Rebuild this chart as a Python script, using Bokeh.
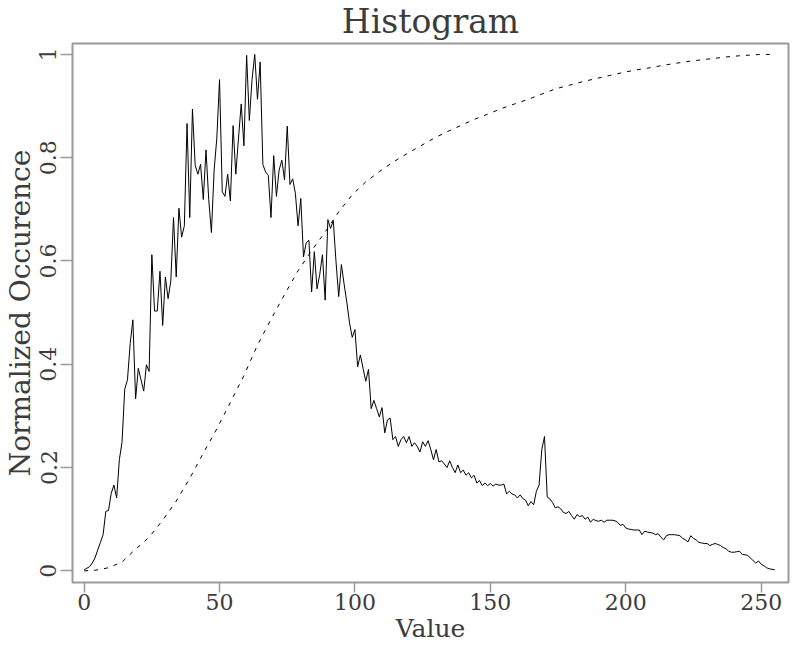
from bokeh.plotting import figure
from bokeh.models import Range1d, FixedTicker
from bokeh.embed import file_html
from bokeh.resources import INLINE

# ---- data ----
hist_values = [
    0.002, 0.005, 0.008, 0.015, 0.025, 0.040, 0.055, 0.070, 0.115, 0.117,
    0.150, 0.166, 0.141, 0.215, 0.250, 0.352, 0.370, 0.440, 0.486, 0.333,
    0.392, 0.370, 0.348, 0.399, 0.386, 0.612, 0.503, 0.503, 0.580, 0.475,
    0.569, 0.527, 0.561, 0.684, 0.569, 0.702, 0.646, 0.668, 0.866, 0.684,
    0.894, 0.785, 0.768, 0.787, 0.719, 0.815, 0.719, 0.655, 0.776, 0.838,
    0.951, 0.734, 0.725, 0.768, 0.716, 0.862, 0.768, 0.838, 0.904, 0.823,
    0.998, 0.872, 0.951, 1.000, 0.913, 0.985, 0.787, 0.772, 0.766, 0.684,
    0.804, 0.725, 0.776, 0.795, 0.757, 0.861, 0.748, 0.759, 0.731, 0.668,
    0.721, 0.608, 0.635, 0.640, 0.540, 0.618, 0.546, 0.574, 0.612, 0.524,
    0.680, 0.663, 0.678, 0.599, 0.531, 0.593, 0.555, 0.520, 0.480, 0.452,
    0.467, 0.395, 0.418, 0.392, 0.367, 0.390, 0.314, 0.330, 0.314, 0.298,
    0.316, 0.267, 0.292, 0.296, 0.254, 0.260, 0.241, 0.254, 0.260, 0.248,
    0.260, 0.241, 0.248, 0.241, 0.230, 0.250, 0.241, 0.252, 0.235, 0.215,
    0.235, 0.211, 0.213, 0.207, 0.200, 0.213, 0.200, 0.190, 0.205, 0.190,
    0.195, 0.185, 0.190, 0.180, 0.185, 0.170, 0.175, 0.165, 0.170, 0.165,
    0.169, 0.164, 0.168, 0.166, 0.166, 0.168, 0.149, 0.154, 0.149, 0.147,
    0.141, 0.147, 0.140, 0.137, 0.126, 0.134, 0.128, 0.154, 0.166, 0.235,
    0.260, 0.143, 0.139, 0.132, 0.122, 0.124, 0.120, 0.113, 0.111, 0.115,
    0.107, 0.100, 0.109, 0.105, 0.107, 0.100, 0.104, 0.094, 0.100, 0.097,
    0.096, 0.098, 0.094, 0.098, 0.098, 0.098, 0.097, 0.094, 0.088, 0.090,
    0.083, 0.081, 0.080, 0.079, 0.079, 0.079, 0.070, 0.077, 0.075, 0.074,
    0.073, 0.070, 0.072, 0.065, 0.060, 0.068, 0.070, 0.070, 0.070, 0.069,
    0.068, 0.063, 0.060, 0.056, 0.068, 0.063, 0.060, 0.055, 0.054, 0.053,
    0.053, 0.049, 0.051, 0.053, 0.051, 0.049, 0.045, 0.043, 0.038, 0.036,
    0.036, 0.037, 0.038, 0.032, 0.031, 0.030, 0.025, 0.020, 0.015, 0.019,
    0.013, 0.010, 0.006, 0.004, 0.003, 0.002,
]
hist_bins = list(range(len(hist_values)))

cdf_x = [0, 4, 9, 14, 19, 24, 29, 34, 39, 44, 49, 54, 59, 64, 69, 74, 79, 84,
         89, 94, 99, 104, 109, 114, 119, 124, 129, 134, 139, 144, 149, 154,
         159, 164, 169, 174, 179, 184, 189, 194, 199, 204, 209, 214, 219, 224,
         229, 234, 239, 244, 249, 255]
cdf_y = [0.0, 0.001, 0.006, 0.017, 0.042, 0.065, 0.098, 0.135, 0.179, 0.228,
         0.275, 0.326, 0.378, 0.437, 0.487, 0.535, 0.581, 0.620, 0.656, 0.695,
         0.728, 0.753, 0.773, 0.791, 0.807, 0.822, 0.837, 0.850, 0.862, 0.874,
         0.884, 0.895, 0.904, 0.913, 0.923, 0.933, 0.940, 0.947, 0.953, 0.959,
         0.965, 0.970, 0.974, 0.979, 0.983, 0.987, 0.990, 0.993, 0.996, 0.998,
         0.9996, 1.0]

x_ticks = [0, 50, 100, 150, 200, 250]
y_ticks = [0, 0.2, 0.4, 0.6, 0.8, 1]
y_tick_labels = ["0", "0.2", "0.4", "0.6", "0.8", "1"]

FONT = "DejaVu Serif"
TEXT = "#3c3c3c"
FRAME = "#9a9a9a"

p = figure(width=790, height=645, output_backend="svg", toolbar_location=None,
           x_range=Range1d(-4.3, 260.1), y_range=Range1d(-0.0226, 1.021),
           min_border_left=62, min_border_right=2, min_border_top=35,
           min_border_bottom=0)

p.title.text = "Histogram"
p.title.align = "center"
p.title.vertical_align = "top"
p.title.text_font = FONT
p.title.text_font_size = "33px"
p.title.text_font_style = "normal"
p.title.text_color = TEXT
p.title.offset = 0
p.title.standoff = 2

p.grid.visible = False
p.outline_line_color = FRAME
p.outline_line_width = 2

for ax in (p.xaxis[0], p.yaxis[0]):
    ax.axis_line_color = None
    ax.major_tick_out = 10
    ax.major_tick_in = 0
    ax.major_tick_line_color = FRAME
    ax.major_tick_line_width = 1.5
    ax.minor_tick_line_color = None
    ax.major_label_text_font = FONT
    ax.major_label_text_font_size = "22px"
    ax.major_label_text_color = TEXT
    ax.major_label_text_line_height = 1.0
    ax.major_label_standoff = 1
    ax.axis_label_text_font = FONT
    ax.axis_label_text_font_size = "25px"
    ax.axis_label_text_font_style = "normal"
    ax.axis_label_text_color = TEXT
    ax.axis_label_text_line_height = 1.0
    ax.axis_label_standoff = 1

p.yaxis.major_label_standoff = 4
p.yaxis.axis_label_standoff = 1
p.yaxis.major_tick_out = 12

p.xaxis.ticker = FixedTicker(ticks=x_ticks)
p.yaxis.ticker = FixedTicker(ticks=y_ticks)
p.yaxis.major_label_overrides = dict(zip(y_ticks, y_tick_labels))
p.yaxis.major_label_orientation = "vertical"
p.yaxis.axis_label_text_font_size = "28px"
p.xaxis.axis_label = "Value"
p.yaxis.axis_label = "Normalized Occurence"

p.line(hist_bins, hist_values, line_color="black", line_width=1)
p.line(cdf_x, cdf_y, line_color="black", line_width=1, line_dash="4 6")

open("out.html", "w").write(file_html(p, INLINE))
